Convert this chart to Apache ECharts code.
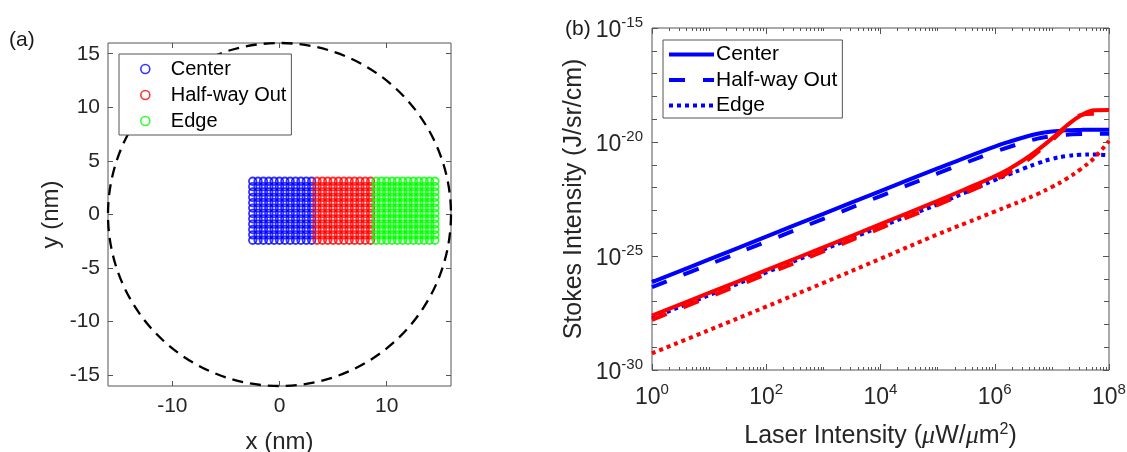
<!DOCTYPE html>
<html>
<head>
<meta charset="utf-8">
<script src="https://cdn.jsdelivr.net/npm/echarts@6/dist/echarts.min.js"></script>
<style>
  html, body { margin: 0; padding: 0; background: #ffffff; }
  #chart { width: 1127px; height: 452px; }
</style>
</head>
<body>
<div id="chart"></div>
<script>
// ---------- Panel (a): sampling positions inside the particle (nm) ----------
const centerCols  = [-2.5, -2, -1.5, -1, -0.5, 0, 0.5, 1, 1.5, 2, 2.5, 3];
const halfwayCols = [3.5, 4, 4.5, 5, 5.5, 6, 6.5, 7, 7.5, 8, 8.5];
const edgeCols    = [9, 9.5, 10, 10.5, 11, 11.5, 12, 12.5, 13, 13.5, 14, 14.5];
const gridRows    = [-2.4, -1.9, -1.4, -0.9, -0.4, 0.1, 0.6, 1.1, 1.6, 2.1, 2.6, 3.1];
const particle    = [0, 0, 16];            // centre x, centre y, radius (nm)
const xTicksA = [-10, 0, 10];
const yTicksA = [-15, -10, -5, 0, 5, 10, 15];

// ---------- Panel (b): Stokes intensity vs laser intensity ----------
const laserIntensity = [1, 1e1, 1e2, 1e3, 1e4, 1e5, 3.16e5, 1e6, 1.78e6, 3.16e6, 5.62e6,
                        1e7, 1.78e7, 3.16e7, 5.62e7, 1e8];
// blue set
const stokesCenter  = [7.08e-27, 7.08e-26, 7.08e-25, 7.08e-24, 7.08e-23, 6.92e-22, 2.14e-21, 6.31e-21,
                       1.02e-20, 1.58e-20, 2.29e-20, 2.88e-20, 3.24e-20, 3.39e-20, 3.47e-20, 3.47e-20];
const stokesHalfway = [4.27e-27, 4.27e-26, 4.27e-25, 4.27e-24, 4.27e-23, 4.17e-22, 1.26e-21, 3.72e-21,
                       6.03e-21, 9.55e-21, 1.41e-20, 1.82e-20, 2.09e-20, 2.24e-20, 2.29e-20, 2.29e-20];
const stokesEdge    = [1.91e-28, 1.91e-27, 1.91e-26, 1.91e-25, 1.91e-24, 1.86e-23, 6.31e-23, 2.14e-22,
                       3.80e-22, 6.76e-22, 1.15e-21, 1.82e-21, 2.40e-21, 2.75e-21, 2.82e-21, 2.57e-21];
// red set
const stokesCenterR  = [2.40e-28, 2.40e-27, 2.40e-26, 2.40e-25, 2.51e-24, 2.63e-23, 8.91e-23, 3.16e-22,
                        6.61e-22, 1.58e-21, 4.37e-21, 1.41e-20, 5.01e-20, 1.41e-19, 2.45e-19, 2.51e-19];
const stokesHalfwayR = [1.58e-28, 1.58e-27, 1.58e-26, 1.58e-25, 1.66e-24, 1.74e-23, 6.03e-23, 2.19e-22,
                        4.68e-22, 1.17e-21, 3.55e-21, 1.17e-20, 4.47e-20, 1.51e-19, 1.74e-19, 1.32e-19];
const stokesEdgeR    = [5.37e-30, 5.62e-29, 6.03e-28, 6.61e-27, 7.59e-26, 8.91e-25, 2.82e-24, 8.91e-24,
                        1.58e-23, 2.82e-23, 5.25e-23, 1.07e-22, 2.40e-22, 6.31e-22, 2.09e-21, 1.12e-20];
const xTickLabelsB = [1, 1e2, 1e4, 1e6, 1e8];
const yTickLabelsB = [1e-30, 1e-25, 1e-20, 1e-15];

// ---------- styling ----------
const FONT = '"Liberation Sans", Arial, Helvetica, sans-serif';
const AXIS_COLOR = '#555555';
const LABEL_COLOR = '#262626';
const BLUE = '#0000ff', RED = '#ff0000', GREEN = '#00ff00';

// minor ticks of the log axes: 2..9 x 10^k plus unlabelled decades
const xMinorB = [];
for (let k = 0; k < 8; k++) {
  const dec = Number('1e' + k);
  if (k % 2 === 1) xMinorB.push(dec);
  for (let m = 2; m <= 9; m++) xMinorB.push(m * dec);
}
const yMinorB = [];
for (let k = -29; k <= -16; k++) if (k % 5 !== 0) yMinorB.push(Number('1e' + k));

const gridPoints = (cols, rows) => cols.flatMap(x => rows.map(y => [x, y]));
const pairs = (xs, ys) => xs.map((x, i) => [x, ys[i]]);
const powLabel = v => '{b|10}{s|' + Math.round(Math.log10(v)) + '}';
const powRich = {
  b: { fontSize: 23, fontFamily: FONT, color: LABEL_COLOR, padding: [6, 0, 0, 0] },
  s: { fontSize: 15, fontFamily: FONT, color: LABEL_COLOR, padding: [0, 0, 10, 0] }
};

function tick(values, len) {
  return { show: true, inside: true, length: len, customValues: values,
           lineStyle: { color: AXIS_COLOR, width: 1 } };
}
const noLine = { show: false, onZero: false };

const xAxes = [
  // (a) bottom
  { type: 'value', gridIndex: 0, position: 'bottom', min: -16, max: 16,
    axisLine: noLine, splitLine: { show: false }, axisTick: tick(xTicksA, 5),
    axisLabel: { customValues: xTicksA, margin: 10, fontSize: 21, fontFamily: FONT, color: LABEL_COLOR },
    name: 'x (nm)', nameLocation: 'middle', nameGap: 44,
    nameTextStyle: { fontSize: 24, fontFamily: FONT, color: LABEL_COLOR } },
  // (a) top
  { type: 'value', gridIndex: 0, position: 'top', min: -16, max: 16,
    axisLine: noLine, splitLine: { show: false }, axisTick: tick(xTicksA, 5),
    axisLabel: { show: false } },
  // (b) bottom, labelled decades
  { type: 'log', logBase: 10, gridIndex: 1, position: 'bottom', min: 1, max: 1e8,
    axisLine: noLine, splitLine: { show: false }, axisTick: tick(xTickLabelsB, 6),
    axisLabel: { customValues: xTickLabelsB, margin: 10, formatter: powLabel, rich: powRich },
    name: 'Laser Intensity ({mu|\u03bc}W/{mu|\u03bc}m{sup|2})', nameLocation: 'middle', nameGap: 52,
    nameTextStyle: { fontSize: 25, fontFamily: FONT, color: LABEL_COLOR,
      rich: {
        mu: { fontSize: 26, fontFamily: '"Liberation Serif", "Times New Roman", serif', fontStyle: 'italic', color: LABEL_COLOR },
        sup: { fontSize: 16, fontFamily: FONT, color: LABEL_COLOR, padding: [0, 0, 12, 0] }
      } } },
  // (b) top
  { type: 'log', logBase: 10, gridIndex: 1, position: 'top', min: 1, max: 1e8,
    axisLine: noLine, splitLine: { show: false }, axisTick: tick(xTickLabelsB, 6),
    axisLabel: { show: false } },
  // (b) minor ticks, bottom and top
  { type: 'log', logBase: 10, gridIndex: 1, position: 'bottom', min: 1, max: 1e8,
    axisLine: noLine, splitLine: { show: false }, axisTick: tick(xMinorB, 3),
    axisLabel: { show: false } },
  { type: 'log', logBase: 10, gridIndex: 1, position: 'top', min: 1, max: 1e8,
    axisLine: noLine, splitLine: { show: false }, axisTick: tick(xMinorB, 3),
    axisLabel: { show: false } }
];

const yAxes = [
  // (a) left
  { type: 'value', gridIndex: 0, position: 'left', min: -16, max: 16,
    axisLine: noLine, splitLine: { show: false }, axisTick: tick(yTicksA, 5),
    axisLabel: { customValues: yTicksA, margin: 8, fontSize: 21, fontFamily: FONT, color: LABEL_COLOR },
    name: 'y (nm)', nameLocation: 'middle', nameGap: 45,
    nameTextStyle: { fontSize: 24, fontFamily: FONT, color: LABEL_COLOR } },
  // (a) right
  { type: 'value', gridIndex: 0, position: 'right', min: -16, max: 16,
    axisLine: noLine, splitLine: { show: false }, axisTick: tick(yTicksA, 5),
    axisLabel: { show: false } },
  // (b) left, labelled
  { type: 'log', logBase: 10, gridIndex: 1, position: 'left', min: 1e-30, max: 1e-15,
    axisLine: noLine, splitLine: { show: false }, axisTick: tick(yTickLabelsB, 6),
    axisLabel: { customValues: yTickLabelsB, margin: 9, formatter: powLabel, rich: powRich },
    name: 'Stokes Intensity (J/sr/cm)', nameLocation: 'middle', nameGap: 65,
    nameTextStyle: { fontSize: 25, fontFamily: FONT, color: LABEL_COLOR } },
  // (b) right
  { type: 'log', logBase: 10, gridIndex: 1, position: 'right', min: 1e-30, max: 1e-15,
    axisLine: noLine, splitLine: { show: false }, axisTick: tick(yTickLabelsB, 6),
    axisLabel: { show: false } },
  // (b) unlabelled decade ticks, left and right
  { type: 'log', logBase: 10, gridIndex: 1, position: 'left', min: 1e-30, max: 1e-15,
    axisLine: noLine, splitLine: { show: false }, axisTick: tick(yMinorB, 5),
    axisLabel: { show: false } },
  { type: 'log', logBase: 10, gridIndex: 1, position: 'right', min: 1e-30, max: 1e-15,
    axisLine: noLine, splitLine: { show: false }, axisTick: tick(yMinorB, 5),
    axisLabel: { show: false } }
];

function regionSeries(name, color, cols) {
  return { type: 'scatter', name, xAxisIndex: 0, yAxisIndex: 0, symbol: 'circle', symbolSize: 7.5,
           itemStyle: { color: 'rgba(0,0,0,0)', borderColor: color, borderWidth: 1.8 },
           emphasis: { disabled: true }, silent: true, data: gridPoints(cols, gridRows) };
}
function curve(name, color, dash, ys) {
  return { type: 'line', name, xAxisIndex: 2, yAxisIndex: 2, symbol: 'none', smooth: 0.4,
           lineStyle: { color, width: 4, type: dash }, emphasis: { disabled: true }, silent: true,
           data: pairs(laserIntensity, ys) };
}
const DASHED = [16, 18], DOTTED = [4, 4];

const regionLabel = { 'Center region': 'Center', 'Half-way Out region': 'Half-way Out', 'Edge region': 'Edge' };
const ringIcon = c => ({ color: 'rgba(0,0,0,0)', borderColor: c, borderWidth: 1.6 });
const noMarker = { color: 'rgba(0,0,0,0)', borderWidth: 0 };

const option = {
  animation: false,
  backgroundColor: '#ffffff',
  title: [
    { text: '(a)', left: 9, top: 30, padding: 0, textStyle: { fontSize: 21, fontWeight: 'normal', fontFamily: FONT, color: '#1a1a1a' } },
    { text: '(b)', left: 565, top: 19, padding: 0, textStyle: { fontSize: 21, fontWeight: 'normal', fontFamily: FONT, color: '#1a1a1a' } }
  ],
  grid: [
    { left: 108, top: 43, width: 343, height: 343, show: true, borderColor: AXIS_COLOR, borderWidth: 1,
      backgroundColor: 'rgba(0,0,0,0)', containLabel: false, outerBoundsMode: 'none' },
    { left: 652, top: 28, width: 457, height: 342, show: true, borderColor: AXIS_COLOR, borderWidth: 1,
      backgroundColor: 'rgba(0,0,0,0)', containLabel: false, outerBoundsMode: 'none' }
  ],
  xAxis: xAxes,
  yAxis: yAxes,
  legend: [
    { left: 119, top: 54, orient: 'vertical', selectedMode: false, padding: [5, 5, 4, 21], itemGap: 6,
      itemWidth: 9, itemHeight: 9, backgroundColor: '#ffffff', borderColor: AXIS_COLOR, borderWidth: 1,
      textStyle: { fontSize: 20, fontFamily: FONT, color: '#000000', padding: [0, 0, 0, 16] },
      formatter: n => regionLabel[n],
      data: [
        { name: 'Center region', icon: 'circle', itemStyle: ringIcon(BLUE) },
        { name: 'Half-way Out region', icon: 'circle', itemStyle: ringIcon(RED) },
        { name: 'Edge region', icon: 'circle', itemStyle: ringIcon(GREEN) }
      ] },
    { left: 663, top: 40, orient: 'vertical', selectedMode: false, padding: [4, 5, 2, 4], itemGap: 4.5,
      itemWidth: 45, itemHeight: 14, backgroundColor: '#ffffff', borderColor: AXIS_COLOR, borderWidth: 1,
      textStyle: { fontSize: 21, fontFamily: FONT, color: '#000000', padding: [0, 0, 0, -3] },
      data: [
        { name: 'Center', itemStyle: noMarker, lineStyle: { width: 4 } },
        { name: 'Half-way Out', itemStyle: noMarker, lineStyle: { width: 4 } },
        { name: 'Edge', itemStyle: noMarker, lineStyle: { width: 4 } }
      ] }
  ],
  series: [
    { type: 'custom', name: 'particle outline', xAxisIndex: 0, yAxisIndex: 0, clip: false, silent: true,
      data: [particle],
      renderItem: (params, api) => {
        const c = api.coord([api.value(0), api.value(1)]);
        const e = api.coord([api.value(0) + api.value(2), api.value(1)]);
        return { type: 'circle', shape: { cx: c[0], cy: c[1], r: e[0] - c[0] },
                 style: { fill: 'none', stroke: '#000000', lineWidth: 2.3, lineDash: [11, 7] } };
      } },
    regionSeries('Center region', BLUE, centerCols),
    regionSeries('Half-way Out region', RED, halfwayCols),
    regionSeries('Edge region', GREEN, edgeCols),
    curve('Center', BLUE, 'solid', stokesCenter),
    curve('Half-way Out', BLUE, DASHED, stokesHalfway),
    curve('Edge', BLUE, DOTTED, stokesEdge),
    curve('Center (red)', RED, 'solid', stokesCenterR),
    curve('Half-way Out (red)', RED, DASHED, stokesHalfwayR),
    curve('Edge (red)', RED, DOTTED, stokesEdgeR)
  ]
};

const chart = echarts.init(document.getElementById('chart'), null, { renderer: 'canvas' });
chart.setOption(option);
</script>
</body>
</html>
